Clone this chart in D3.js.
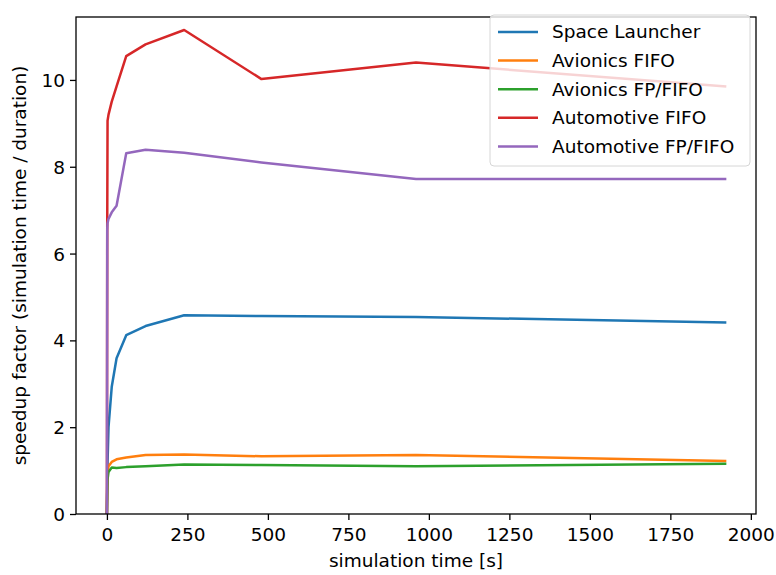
<!DOCTYPE html>
<html>
<head>
<meta charset="utf-8">
<script src="https://cdn.jsdelivr.net/npm/d3@7"></script>
<style>
    body { margin: 0; background: #fff; }
    text { font-family: 'DejaVu Sans', sans-serif; fill: #000; }
</style>
</head>
<body>
<div id="vis"></div>
<script>
// simulation times [s]
const times = [0, 1, 2, 5, 15, 30, 60, 120, 240, 480, 960, 1920];

const spaceLauncher = [0, 0.6, 1.2, 2.0, 2.93, 3.59, 4.12, 4.33, 4.58, 4.56, 4.54, 4.41];
const avionicsFifo = [0, 0.6, 0.9, 1.1, 1.2, 1.26, 1.30, 1.36, 1.37, 1.33, 1.36, 1.22];
const avionicsFpFifo = [0, 0.5, 0.8, 0.97, 1.07, 1.06, 1.08, 1.10, 1.14, 1.13, 1.10, 1.16];
const automotiveFifo = [0, 6.6, 9.06, 9.2, 9.5, 9.85, 10.55, 10.82, 11.15, 10.02, 10.4, 9.85];
const automotiveFpFifo = [0, 6.55, 6.70, 6.8, 6.95, 7.1, 8.31, 8.39, 8.32, 8.1, 7.72, 7.72];

const seriesNames = ['Space Launcher', 'Avionics FIFO', 'Avionics FP/FIFO', 'Automotive FIFO', 'Automotive FP/FIFO'];
const seriesValues = [spaceLauncher, avionicsFifo, avionicsFpFifo, automotiveFifo, automotiveFpFifo];
const colors = ['#1f77b4', '#ff7f0e', '#2ca02c', '#d62728', '#9467bd'];

const xTicks = [0, 250, 500, 750, 1000, 1250, 1500, 1750, 2000];
const yTicks = [0, 2, 4, 6, 8, 10];

const fontSize = '18.5px';

let dimensions = {
    width: 776,
    height: 575,
    margin: {
        top: 17,
        right: 20,
        bottom: 61,
        left: 76
    }
};
dimensions.boundedWidth =
    dimensions.width - dimensions.margin.left - dimensions.margin.right;
dimensions.boundedHeight =
    dimensions.height - dimensions.margin.top - dimensions.margin.bottom;

const wrapper = d3.select('#vis')
    .append('svg')
    .attr('width', dimensions.width)
    .attr('height', dimensions.height);

const bounds = wrapper.append('g')
    .attr('transform', `translate(${dimensions.margin.left},${dimensions.margin.top})`);

// matplotlib style 5% x margins, y clamped at 0
const xScale = d3.scaleLinear()
    .domain([-96, 2016])
    .range([0, dimensions.boundedWidth]);

const yScale = d3.scaleLinear()
    .domain([0, 11.45])
    .range([dimensions.boundedHeight, 0]);

bounds.append('clipPath')
    .attr('id', 'clip')
    .append('rect')
    .attr('width', dimensions.boundedWidth)
    .attr('height', dimensions.boundedHeight);

const lineGenerator = d3.line()
    .x((d, i) => xScale(times[i]))
    .y(d => yScale(d));

bounds.append('g')
    .attr('clip-path', 'url(#clip)')
    .selectAll('path')
    .data(seriesValues)
    .join('path')
    .attr('d', d => lineGenerator(d))
    .attr('fill', 'none')
    .attr('stroke', (d, i) => colors[i])
    .attr('stroke-width', 2.5)
    .attr('stroke-linejoin', 'round')
    .attr('stroke-linecap', 'square');

// axes
const xAxisGenerator = d3.axisBottom(xScale)
    .tickValues(xTicks)
    .tickFormat(d3.format('d'))
    .tickSize(6)
    .tickPadding(8);
const yAxisGenerator = d3.axisLeft(yScale)
    .tickValues(yTicks)
    .tickSize(6)
    .tickPadding(5);

const xAxis = bounds.append('g')
    .attr('transform', `translate(0,${dimensions.boundedHeight})`)
    .call(xAxisGenerator);
const yAxis = bounds.append('g')
    .call(yAxisGenerator);

[xAxis, yAxis].forEach(ax => {
    ax.select('.domain').remove();
    ax.selectAll('line').attr('stroke', '#000').attr('stroke-width', 1.3);
    ax.selectAll('text')
        .style('font-size', fontSize)
        .style('font-family', 'DejaVu Sans, sans-serif')
        .attr('fill', '#262626');
});
yAxis.selectAll('text').attr('dy', '0.35em');

// frame
bounds.append('rect')
    .attr('width', dimensions.boundedWidth)
    .attr('height', dimensions.boundedHeight)
    .attr('fill', 'none')
    .attr('stroke', '#000')
    .attr('stroke-width', 1.3);

// axis labels
wrapper.append('text')
    .attr('x', dimensions.margin.left + dimensions.boundedWidth / 2)
    .attr('y', 567)
    .attr('text-anchor', 'middle')
    .style('font-size', fontSize)
    .attr('fill', '#262626')
    .text('simulation time [s]');

wrapper.append('text')
    .attr('transform', `translate(26,${dimensions.margin.top + dimensions.boundedHeight / 2}) rotate(-90)`)
    .attr('text-anchor', 'middle')
    .style('font-size', fontSize)
    .attr('fill', '#262626')
    .text('speedup factor (simulation time / duration)');

// legend
const legend = wrapper.append('g')
    .attr('transform', 'translate(490,15)');

legend.append('rect')
    .attr('width', 260)
    .attr('height', 151)
    .attr('rx', 4)
    .attr('fill', 'rgba(255,255,255,0.8)')
    .attr('stroke', '#d6d6d6')
    .attr('stroke-width', 1);

const items = legend.selectAll('.item')
    .data(seriesNames)
    .join('g')
    .attr('class', 'item')
    .attr('transform', (d, i) => `translate(0,${17 + i * 28.6})`);

items.append('line')
    .attr('x1', 8)
    .attr('x2', 48)
    .attr('stroke', (d, i) => colors[i])
    .attr('stroke-width', 2.5);

items.append('text')
    .attr('x', 62)
    .attr('dy', '0.35em')
    .style('font-size', fontSize)
    .attr('fill', '#262626')
    .text(d => d);
</script>
</body>
</html>
